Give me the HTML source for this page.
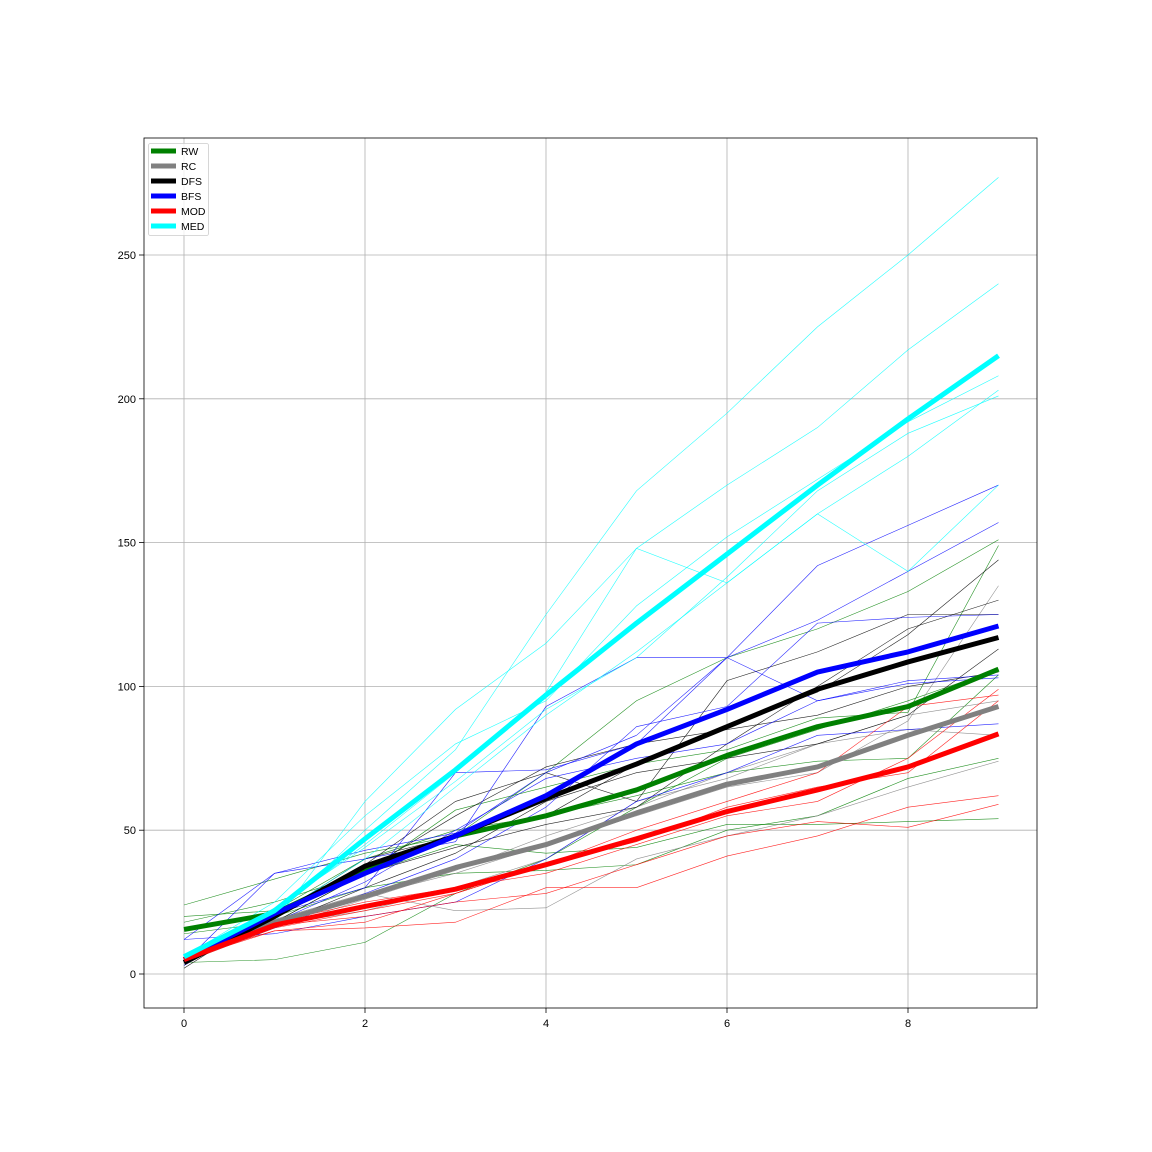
<!DOCTYPE html>
<html><head><meta charset="utf-8"><style>
html,body{margin:0;padding:0;background:#fff}
svg{display:block;font-family:"Liberation Sans",sans-serif}
</style></head><body>
<svg id="chart" width="1152" height="1152" viewBox="0 0 1152 1152"></svg>
<script>
const xs=[0,1,2,3,4,5,6,7,8,9];
const xTicks=[0,2,4,6,8];
const yTicks=[0,50,100,150,200,250];
const seriesNames=["RW","RC","DFS","BFS","MOD","MED"];
const seriesColors=["green","gray","black","blue","red","cyan"];
const rwMean=[15.5,21,36,48,55,64,76,86,93,106];
const rcMean=[5,18,27,37,45,56,66,72,83,93];
const dfsMean=[4,20,37.5,48,61,73,86,99,108.5,117];
const bfsMean=[5,21,35,48,62,80,92,105,112,121];
const modMean=[5,17,23.5,29.5,38,47,56.5,64,72,83.5];
const medMean=[6,22,47,71,97,122,146,170,193,215];
const rwRuns=[[24,33,42,48,70,95,110,120,133,151],[18,25,35,57,65,73,78,89,91,149],[4,5,11,28,40,58,75,85,95,106],[20,22,40,50,55,62,70,74,75,104],[16,20,30,35,36,38,50,55,68,75],[14,18,35,45,42,44,52,52,53,54]];
const rcRuns=[[5,18,27,35,45,55,65,70,88,135],[4,16,26,36,48,58,70,80,90,95],[6,19,28,22,23,40,48,55,65,74],[5,17,22,30,40,60,68,80,85,83]];
const dfsRuns=[[3,20,38,60,70,60,102,112,125,125],[4,20,40,48,55,73,86,98,118,144],[5,18,35,44,52,58,80,100,120,130],[2,22,36,55,72,80,85,90,100,105],[4,17,30,42,60,70,75,80,90,113]];
const bfsRuns=[[12,35,43,49,70,83,110,142,156,170],[3,21,30,70,71,80,110,123,140,157],[5,16,28,40,58,86,93,122,124,125],[12,14,20,25,40,60,70,83,85,87],[4,35,40,46,93,110,110,95,102,104],[6,18,32,50,68,75,80,95,101,103]];
const modRuns=[[5,18,25,30,35,45,55,60,75,99],[6,15,16,18,30,30,41,48,58,62],[4,16,22,28,38,50,60,70,93,97],[5,17,20,25,28,38,48,53,51,59],[5,15,18,28,38,46,58,65,70,95]];
const medRuns=[[5,20,50,78,125,168,195,225,250,277],[4,22,45,70,98,148,170,190,217,240],[6,25,55,80,95,128,152,172,192,208],[5,18,60,92,115,148,136,160,180,203],[4,23,44,67,92,110,138,168,188,201],[5,20,40,65,90,112,136,160,140,170]];

const NS="http://www.w3.org/2000/svg";
const svg=document.getElementById("chart");
const L=144,R=1037,T=138,B=1008;
const X=v=>184+v*(365-184)/2;
const Y=v=>974-v*(974-255)/250;
function mk(tag,attrs,parent){const e=document.createElementNS(NS,tag);for(const k in attrs)e.setAttribute(k,attrs[k]);(parent||svg).appendChild(e);return e;}

const frame=mk("rect",{x:L,y:T,width:R-L,height:B-T,fill:"#fff"});


xTicks.forEach(t=>{
  const g=mk("line",{x1:X(t),x2:X(t),y1:T,y2:B,stroke:"#b0b0b0","stroke-width":0.8});
  
  
  mk("line",{x1:X(t),x2:X(t),y1:B,y2:B+5,stroke:"#000","stroke-width":0.8});
  const tx=mk("text",{x:X(t),y:B+19,"text-anchor":"middle","font-size":11,fill:"#000"});tx.textContent=t;
  
  
});
yTicks.forEach(t=>{
  const g=mk("line",{x1:L,x2:R,y1:Y(t),y2:Y(t),stroke:"#b0b0b0","stroke-width":0.8});
  
  
  mk("line",{x1:L-5,x2:L,y1:Y(t),y2:Y(t),stroke:"#000","stroke-width":0.8});
  const tx=mk("text",{x:L-8,y:Y(t)+4,"text-anchor":"end","font-size":11,fill:"#000"});tx.textContent=t;
  
  
});
const runs=[rwRuns,rcRuns,dfsRuns,bfsRuns,modRuns,medRuns];
const means=[rwMean,rcMean,dfsMean,bfsMean,modMean,medMean];
function pts(arr){return arr.map((v,i)=>X(xs[i])+","+Y(v)).join(" ");}
runs.forEach((set,si)=>set.forEach(r=>{
  const p=mk("polyline",{points:pts(r),fill:"none",stroke:seriesColors[si],"stroke-width":0.6,"stroke-opacity":0.85});
  
  
}));
means.forEach((m,si)=>{
  const p=mk("polyline",{points:pts(m),fill:"none",stroke:seriesColors[si],"stroke-width":5,"stroke-linejoin":"round"});
  
  
});
const border=mk("rect",{x:L,y:T,width:R-L,height:B-T,fill:"none",stroke:"#000","stroke-width":0.8});


const lg=mk("g",{});


mk("rect",{x:148.5,y:143.5,width:60,height:92,rx:2,fill:"#fff","fill-opacity":0.8,stroke:"#ccc","stroke-width":0.8},lg);
seriesNames.forEach((n,i)=>{
  const y=151+i*15;
  const e=mk("g",{},lg);
  
  
  mk("line",{x1:151,x2:176,y1:y,y2:y,stroke:seriesColors[i],"stroke-width":5},e);
  const t=mk("text",{x:181,y:y+4,"font-size":10.5,fill:"#000"},e);t.textContent=n;
});
</script>
</body></html>
